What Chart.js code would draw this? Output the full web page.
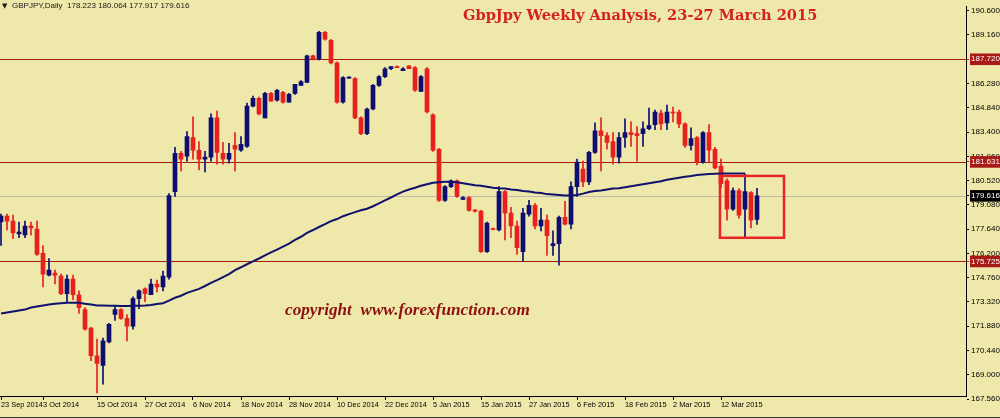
<!DOCTYPE html>
<html><head><meta charset="utf-8">
<script src="https://cdn.jsdelivr.net/npm/chart.js@4.4.1/dist/chart.umd.min.js"></script>
<style>html,body{margin:0;padding:0;background:#eee8aa;}canvas{display:block;}</style>
</head><body>
<canvas id="c" width="1000" height="418"></canvas>
<script>
const opens=[178.07,178.42,178.12,177.36,177.30,177.83,177.65,176.20,174.91,175.03,
174.86,173.81,174.68,173.75,172.87,171.77,170.13,169.55,170.95,172.58,
172.87,172.35,171.88,173.52,174.10,173.75,174.39,174.22,174.80,179.87,
182.14,181.97,183.08,182.32,181.80,181.91,184.24,182.14,181.80,182.61,
182.32,182.55,184.94,185.41,184.24,185.70,185.29,185.76,185.18,185.70,
186.17,186.34,187.92,187.74,189.32,188.85,187.51,185.18,186.60,186.58,
184.24,183.31,184.77,186.17,186.69,187.16,187.28,187.04,187.33,187.22,
185.82,187.16,184.42,182.38,179.35,180.16,180.51,179.40,179.52,178.76,
178.71,176.31,177.65,177.59,179.87,178.59,177.83,176.31,178.53,179.05,
177.83,178.18,176.66,176.78,178.35,177.94,180.16,181.21,180.45,182.20,
183.48,183.19,182.84,181.91,183.08,183.37,183.31,183.31,183.60,183.84,
184.53,183.95,184.59,184.59,183.89,182.61,183.08,181.62,183.37,182.38,
181.39,180.51,178.82,179.93,178.82,179.81,178.223];
const highs=[178.53,178.53,178.47,178.06,178.12,178.06,178.12,176.67,175.90,175.21,
174.97,174.91,174.91,173.98,172.99,171.82,171.12,171.18,172.06,173.11,
172.93,172.58,173.63,174.04,174.16,174.68,174.62,175.15,179.75,182.49,
182.26,183.43,184.30,182.84,182.26,184.48,184.65,182.79,182.73,183.37,
183.14,185.12,185.53,185.47,185.76,185.76,185.93,185.82,185.70,186.23,
186.46,187.97,187.97,189.38,189.38,188.91,187.57,186.69,186.69,186.63,
184.30,184.83,186.23,186.75,187.22,187.28,187.33,187.22,187.33,187.28,
186.75,187.22,184.48,182.44,180.22,180.57,180.57,179.58,179.58,178.82,
178.76,178.06,177.71,180.16,179.93,178.94,178.12,178.88,179.35,179.17,
178.88,178.47,177.54,178.41,179.29,180.45,181.80,181.68,182.26,183.95,
184.24,183.37,183.37,183.37,184.19,184.01,183.72,184.01,184.83,184.71,
184.71,185.00,184.88,184.71,183.95,183.66,183.14,183.43,183.84,182.49,
181.80,180.63,180.10,180.05,180.92,179.87,180.064];
const lows=[176.67,177.59,177.07,177.13,177.13,177.30,176.08,174.22,174.86,174.39,
173.75,173.34,173.46,172.64,171.65,169.84,167.92,168.44,170.89,172.23,
172.29,171.01,171.71,172.93,173.34,173.75,173.92,173.98,174.68,179.58,
181.10,181.68,181.80,181.15,181.04,181.68,181.50,181.50,181.56,181.10,
182.26,182.49,184.89,184.42,184.24,185.24,185.24,185.12,185.18,185.64,
186.17,186.34,187.68,187.68,188.85,187.45,185.12,185.12,186.58,184.19,
183.25,183.25,184.71,186.11,186.63,187.10,187.22,187.04,187.16,185.82,
185.82,184.53,182.26,179.29,179.29,180.10,179.52,179.40,178.71,178.65,
176.26,176.26,177.59,177.54,177.01,177.13,176.14,175.73,178.41,177.65,
177.54,176.08,176.08,175.50,177.89,177.65,179.58,180.16,180.28,182.14,
181.10,182.38,181.50,181.56,182.49,182.55,181.68,182.55,183.54,183.54,
183.54,183.54,184.01,183.66,182.49,182.32,181.45,181.56,181.62,181.21,
180.10,178.18,178.76,178.30,177.19,177.71,177.917];
const closes=[178.42,178.12,177.42,177.47,177.83,177.71,176.14,174.97,175.21,174.91,
173.81,174.68,173.75,172.99,171.71,170.13,169.67,171.01,172.00,172.87,
172.35,171.88,173.52,173.98,173.81,174.39,174.22,174.86,179.64,182.14,
181.80,183.14,182.32,181.80,181.91,184.24,182.20,181.80,182.14,182.38,
182.67,184.94,185.41,184.48,185.70,185.24,185.88,185.18,185.64,186.23,
186.40,187.92,187.74,189.32,188.91,187.51,185.18,186.63,186.63,184.24,
183.31,184.77,186.17,186.69,187.16,187.28,187.22,187.16,187.16,185.88,
186.69,184.59,182.32,179.35,180.16,180.51,179.58,179.52,178.76,178.71,
176.31,178.00,177.62,179.87,178.59,177.83,176.55,178.59,179.05,177.83,
178.18,177.25,176.78,178.35,177.94,180.16,181.62,180.45,182.20,183.48,
183.19,182.79,181.91,183.08,183.37,183.25,183.19,183.60,183.78,184.59,
183.89,184.59,184.53,183.89,182.61,183.02,181.62,183.37,182.32,181.27,
180.34,178.82,179.93,178.47,179.87,178.18,179.616];
const movingAvg=[172.64,172.70,172.76,172.82,172.87,172.99,173.05,173.11,173.17,173.22,
173.25,173.28,173.28,173.28,173.22,173.17,173.11,173.11,173.10,173.09,
173.08,173.08,173.09,173.10,173.11,173.14,173.20,173.25,173.40,173.57,
173.69,173.86,173.98,174.10,174.27,174.45,174.62,174.80,174.97,175.21,
175.38,175.56,175.73,175.90,176.08,176.26,176.43,176.61,176.78,177.01,
177.19,177.42,177.59,177.77,177.94,178.12,178.24,178.41,178.53,178.65,
178.76,178.85,179.00,179.17,179.35,179.52,179.70,179.87,179.99,180.10,
180.22,180.31,180.40,180.43,180.45,180.45,180.43,180.37,180.31,180.25,
180.22,180.16,180.10,180.07,180.05,179.99,179.96,179.90,179.87,179.81,
179.78,179.72,179.70,179.67,179.64,179.64,179.67,179.75,179.84,179.90,
179.93,179.99,180.05,180.07,180.13,180.19,180.25,180.31,180.37,180.43,
180.48,180.57,180.63,180.69,180.75,180.80,180.86,180.89,180.92,180.93,
180.94,180.94,180.95,180.95,180.95,null,null];
const xTickIndex=[0,7,16,24,32,40,48,56,64,72,80,88,96,104,112,120];
const xTickLabels=['23 Sep 2014','3 Oct 2014','15 Oct 2014','27 Oct 2014','6 Nov 2014','18 Nov 2014','28 Nov 2014','10 Dec 2014','22 Dec 2014','5 Jan 2015','15 Jan 2015','27 Jan 2015','6 Feb 2015','18 Feb 2015','2 Mar 2015','12 Mar 2015'];
const yTickValues=[190.6,189.16,187.72,186.28,184.84,183.4,181.96,180.52,179.08,177.64,176.2,174.76,173.32,171.88,170.44,169.0,167.56];
const levels=[187.720,181.631,175.725];
const lastPrice=179.616;
const boxCorner1=[119.83,180.80];
const boxCorner2=[130.5,177.13];
const headerText='GBPJPY,Daily  178.223 180.064 177.917 179.616';
const titleText='GbpJpy Weekly Analysis, 23-27 March 2015';
const copyrightText='copyright  www.forexfunction.com';

const BULL='#0d0d72', BEAR='#e8211d', LEVEL='#a81a16', BG='#eee8aa';
const idx=opens.map((_,i)=>i);
const col=i=>closes[i]>=opens[i]?BULL:BEAR;
const near=(a,b)=>Math.abs(a-b)<1e-6;
const isLevel=v=>levels.some(l=>near(l,v));
const isPrice=v=>near(v,lastPrice);

const decor={
  id:'decor',
  beforeDraw(chart){
    const {ctx,width,height}=chart;
    ctx.save();ctx.fillStyle=BG;ctx.fillRect(0,0,width,height);ctx.restore();
  },
  beforeDatasetsDraw(chart){
    const {ctx,chartArea:a,scales:{y}}=chart;
    ctx.save();ctx.lineWidth=1;
    const py=v=>Math.round(y.getPixelForValue(v))+0.5;
    ctx.strokeStyle='#bdbab0';
    ctx.beginPath();ctx.moveTo(a.left,py(lastPrice));ctx.lineTo(a.right,py(lastPrice));ctx.stroke();
    ctx.strokeStyle=LEVEL;
    levels.forEach(l=>{ctx.beginPath();ctx.moveTo(a.left,py(l));ctx.lineTo(a.right,py(l));ctx.stroke();});
    ctx.restore();
  },
  afterDatasetsDraw(chart){
    const {ctx,scales:{x,y}}=chart;
    ctx.save();
    const x1=x.getPixelForValue(boxCorner1[0]),y1=y.getPixelForValue(boxCorner1[1]);
    const x2=x.getPixelForValue(boxCorner2[0]),y2=y.getPixelForValue(boxCorner2[1]);
    ctx.strokeStyle='#e82424';ctx.lineWidth=2.5;
    ctx.strokeRect(x1,y1,x2-x1,y2-y1);
    ctx.textBaseline='middle';
    ctx.fillStyle='#d42222';ctx.font='bold 14.6px "DejaVu Serif"';
    ctx.fillText(titleText,463,16);
    ctx.fillStyle='#8e1010';ctx.font='italic bold 17.2px "Liberation Serif"';
    ctx.fillText(copyrightText,285,311);
    ctx.fillStyle='#1a1a1a';ctx.font='8px "Liberation Sans"';
    ctx.fillText(headerText,12,6);
    ctx.font='7px "DejaVu Sans"';ctx.fillText('\u25BC',2,6);
    ctx.fillStyle='#3a3a3a';ctx.fillRect(0,417,1000,1);
    ctx.restore();
  }
};

new Chart(document.getElementById('c'),{
  type:'bar',
  data:{datasets:[
    {type:'line',label:'MA',data:idx.map(i=>({x:i,y:movingAvg[i]})),borderColor:'#10106e',borderWidth:2,pointRadius:0,tension:0,spanGaps:false,order:0},
    {label:'Body',data:idx.map(i=>({x:i,y:[opens[i],closes[i]]})),backgroundColor:idx.map(col),barThickness:4,minBarLength:1,grouped:false,order:1},
    {label:'Wick',data:idx.map(i=>({x:i,y:[lows[i],highs[i]]})),backgroundColor:idx.map(col),barThickness:1,grouped:false,order:2}
  ]},
  options:{
    responsive:false,animation:false,devicePixelRatio:1,
    layout:{padding:0},
    plugins:{legend:{display:false},tooltip:{enabled:false}},
    scales:{
      x:{type:'linear',min:-1/6,max:-1/6+966/6,offset:false,
        afterBuildTicks:ax=>{ax.ticks=xTickIndex.map(v=>({value:v}));},
        afterFit:ax=>{ax.height=22;},
        ticks:{autoSkip:false,maxRotation:0,minRotation:0,align:'start',padding:1,color:'#000',
          font:{family:'Liberation Sans',size:7.4},
          callback:v=>xTickLabels[xTickIndex.indexOf(v)]},
        grid:{offset:false,drawOnChartArea:false,drawTicks:true,tickLength:4,color:'#000'},
        border:{color:'#000',width:1}
      },
      y:{type:'linear',position:'right',min:167.743,max:190.833,
        afterBuildTicks:ax=>{ax.ticks=[...yTickValues,181.631,lastPrice,175.725].map(v=>({value:v}));},
        afterFit:ax=>{ax.width=34;},
        ticks:{autoSkip:false,padding:2,
          font:{family:'Liberation Sans',size:8},
          color:c=>(isLevel(c.tick.value)||isPrice(c.tick.value))?'#ffffff':'#000',
          showLabelBackdrop:c=>isLevel(c.tick.value)||isPrice(c.tick.value),
          backdropColor:c=>isPrice(c.tick.value)?'#000':LEVEL,
          backdropPadding:{top:1,bottom:1,left:1,right:3},
          callback:v=>Number(v).toFixed(3)},
        grid:{drawOnChartArea:false,drawTicks:true,tickLength:3,color:c=>isLevel(c.tick&&c.tick.value)?LEVEL:'#000'},
        border:{color:'#000',width:1}
      }
    }
  },
  plugins:[decor]
});
</script>
</body></html>
